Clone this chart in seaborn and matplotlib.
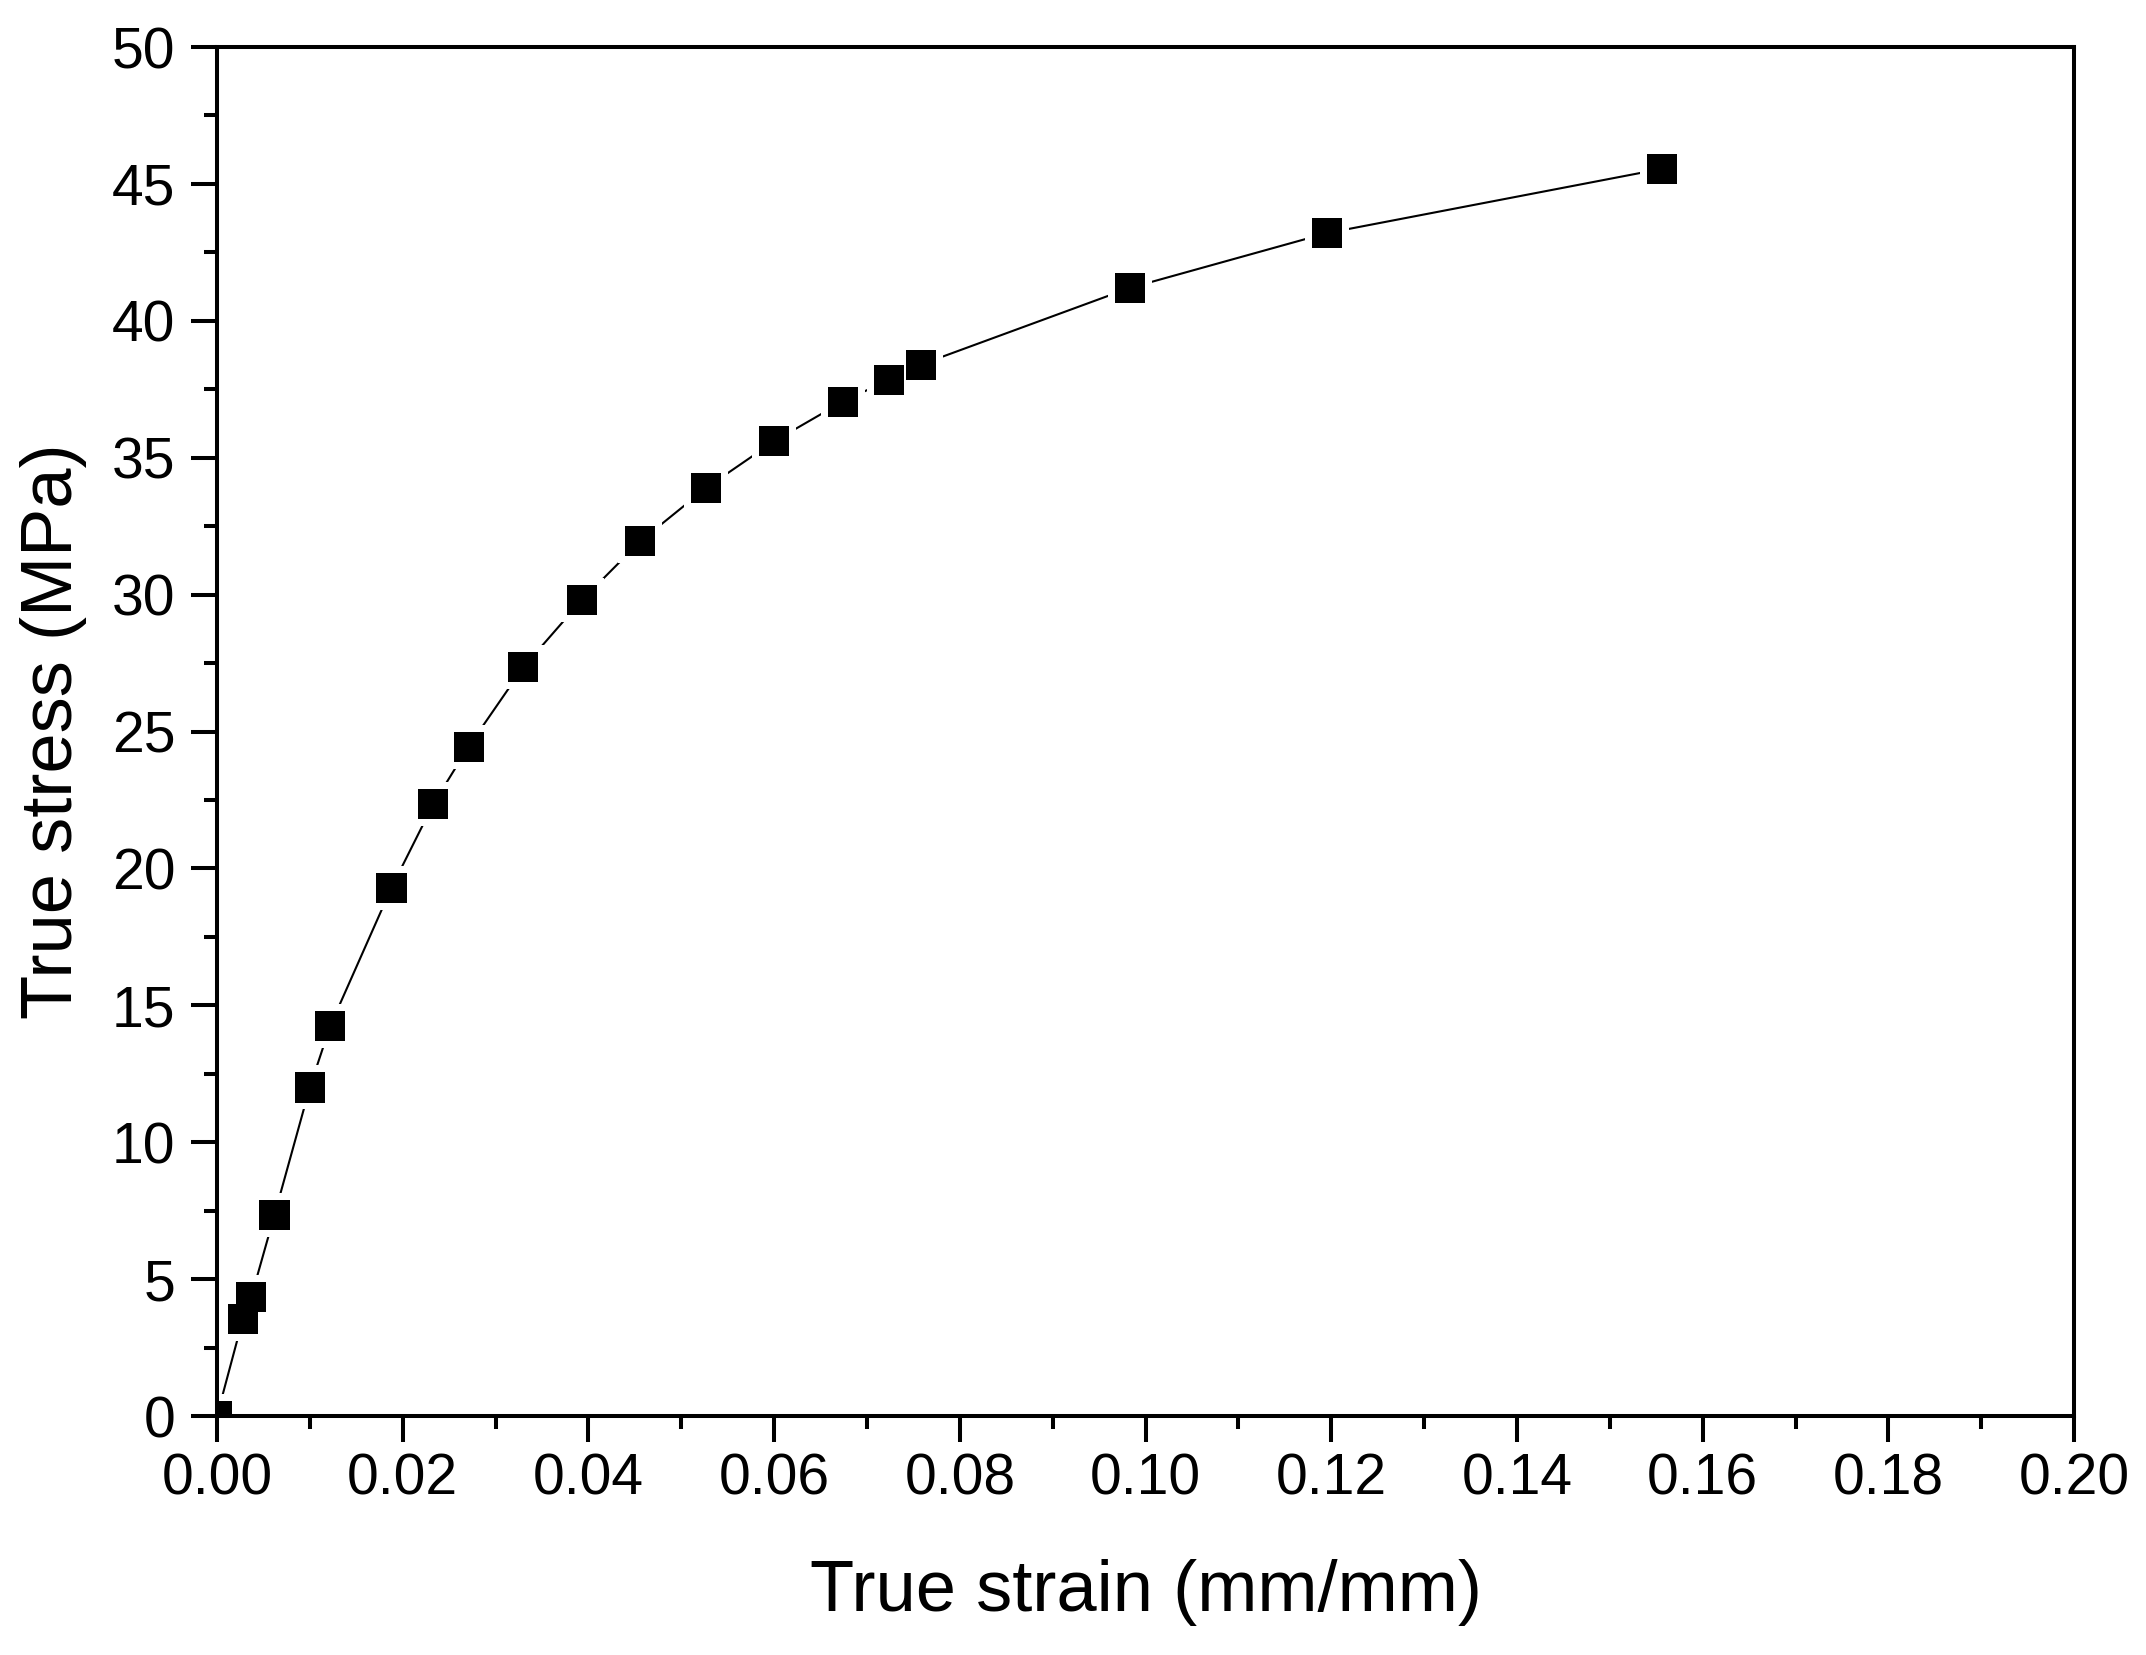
import pandas as pd
import matplotlib
matplotlib.use("Agg")
import matplotlib.pyplot as plt
import seaborn as sns
from matplotlib.ticker import MultipleLocator, FormatStrFormatter

# values
strain = [0.0, 0.0028, 0.0037, 0.0062, 0.0100, 0.0122, 0.0188, 0.0233, 0.0271,
          0.0330, 0.0393, 0.0456, 0.0527, 0.0600, 0.0674, 0.0724, 0.0758,
          0.0983, 0.1195, 0.1556]
stress = [0.0, 3.55, 4.35, 7.35, 12.0, 14.25, 19.3, 22.35, 24.45,
          27.35, 29.8, 31.95, 33.9, 35.6, 37.05, 37.85, 38.4,
          41.2, 43.2, 45.55]

df = pd.DataFrame({'strain': strain, 'stress': stress})

sns.set_style('ticks')
plt.rcParams['font.family'] = ['Liberation Sans', 'DejaVu Sans']

f = plt.figure(figsize=(21.46, 16.55), dpi=100)
ax = f.add_axes([0.1011, 0.1444, 0.8654, 0.8272])

sns.lineplot(data=df, x='strain', y='stress', ax=ax, sort=False, estimator=None,
             color='black', linewidth=1.5, zorder=1)
# white squares give the small gap between line and marker
sns.scatterplot(data=df, x='strain', y='stress', ax=ax, marker='s', s=1000,
                color='white', edgecolor='none', linewidth=0, zorder=2)
sns.scatterplot(data=df, x='strain', y='stress', ax=ax, marker='s', s=470,
                color='black', edgecolor='none', linewidth=0, zorder=3)

ax.set_xlim(0, 0.2)
ax.set_ylim(0, 50)
ax.xaxis.set_major_locator(MultipleLocator(0.02))
ax.xaxis.set_minor_locator(MultipleLocator(0.01))
ax.xaxis.set_major_formatter(FormatStrFormatter('%.2f'))
ax.yaxis.set_major_locator(MultipleLocator(5))
ax.yaxis.set_minor_locator(MultipleLocator(2.5))

for s in ax.spines.values():
    s.set_visible(True)
    s.set_linewidth(2.9)
    s.set_color('black')
    s.set_zorder(4)

ax.tick_params(which='major', direction='out', length=19, width=2.9,
               labelsize=41, color='black', labelcolor='black')
ax.tick_params(axis='x', which='major', pad=7)
ax.tick_params(axis='y', which='major', pad=11)
ax.tick_params(which='minor', direction='out', length=9.5, width=2.9, color='black')
ax.tick_params(top=False, right=False, which='both')

ax.set_xlabel('True strain (mm/mm)', fontsize=52, labelpad=38, color='black')
ax.set_ylabel('True stress (MPa)', fontsize=52, labelpad=18, color='black')

f.savefig('out.png', dpi=100)
plt.close('all')
